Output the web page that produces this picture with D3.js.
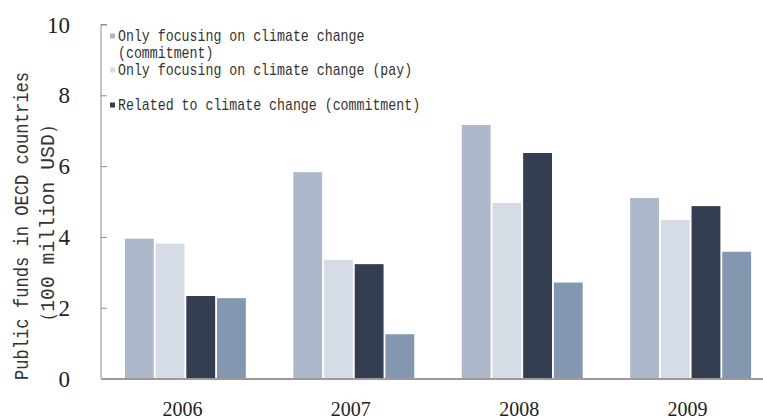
<!DOCTYPE html>
<html>
<head>
<meta charset="utf-8">
<script src="https://cdn.jsdelivr.net/npm/d3@7"></script>
<style>
  html, body { margin: 0; padding: 0; background: #fff; }
  svg { display: block; }
</style>
</head>
<body>
<svg id="chart" width="763" height="419"></svg>
<script>
const years = ["2006", "2007", "2008", "2009"];
const seriesNames = [
  "Only focusing on climate change (commitment)",
  "Only focusing on climate change (pay)",
  "Related to climate change (commitment)",
  "Related to climate change (pay)"
];
const onlyCommit = [3.95, 5.83, 7.16, 5.10];
const onlyPay = [3.81, 3.35, 4.96, 4.48];
const relatedCommit = [2.33, 3.23, 6.37, 4.87];
const relatedPay = [2.27, 1.25, 2.71, 3.58];
const colors = ["#adb9cb", "#d6dce5", "#333f50", "#8497b0"];
const yTicks = [0, 2, 4, 6, 8, 10];
const yTitle1 = "Public funds in OECD countries";
const yTitle2 = "（100 million USD）";

const seriesValues = [onlyCommit, onlyPay, relatedCommit, relatedPay];

const svg = d3.select("#chart");
const monoFont = "'Liberation Mono', 'DejaVu Sans Mono', monospace";
const serifFont = "'Liberation Serif', 'DejaVu Serif', serif";

function simWidth(t, fs) {
  let w = 0;
  for (const ch of t) w += (ch.charCodeAt(0) > 255 ? 1 : 0.5) * fs;
  return w;
}

const y = d3.scaleLinear().domain([0, 10]).range([378.5, 24.5]);
const x0 = d3.scaleBand().domain(years).range([101, 775]).paddingInner(0.282).paddingOuter(0.142);
const x1 = d3.scaleBand().domain(d3.range(4)).range([0, x0.bandwidth()]).paddingInner(0.06);

const groups = svg.append("g").selectAll("g")
  .data(years)
  .join("g")
  .attr("transform", d => `translate(${x0(d)},0)`);

groups.selectAll("rect")
  .data((d, i) => seriesValues.map((s, k) => ({k, v: s[i]})))
  .join("rect")
  .attr("x", d => x1(d.k))
  .attr("width", x1.bandwidth())
  .attr("y", d => y(d.v))
  .attr("height", d => y(0) - y(d.v))
  .attr("fill", d => colors[d.k]);

const yAxis = d3.axisRight(y).tickValues(yTicks).tickSize(6).tickFormat("");
const yg = svg.append("g").attr("transform", "translate(101,0)").call(yAxis);
yg.select(".domain").attr("stroke", "#8c8c8c").attr("d", `M6,${y(10)}H0V${y(0)}H6`);
yg.selectAll(".tick line").attr("stroke", "#8c8c8c");

svg.append("g").selectAll("text")
  .data(yTicks)
  .join("text")
  .attr("x", 70)
  .attr("y", d => y(d))
  .attr("dy", "0.35em")
  .attr("text-anchor", "end")
  .attr("font-family", serifFont)
  .attr("font-size", 23)
  .attr("fill", "#222")
  .text(d => d);

svg.append("line")
  .attr("x1", 101).attr("x2", 763)
  .attr("y1", y(0) + 0.5).attr("y2", y(0) + 0.5)
  .attr("stroke", "#9a9a9a").attr("stroke-width", 2);

svg.append("g").selectAll("text")
  .data(years)
  .join("text")
  .attr("x", d => x0(d) + x0.bandwidth() / 2 - 3)
  .attr("y", 415.5)
  .attr("text-anchor", "middle")
  .attr("font-family", serifFont)
  .attr("font-size", 20)
  .attr("fill", "#222")
  .text(d => d);

// rotated title lines, scaled horizontally to a target length
function titleLine(t, xb, yc, fs, len) {
  const g = svg.append("g").attr("transform", `translate(${xb},${yc}) rotate(-90)`);
  const txt = g.append("text")
    .attr("text-anchor", "middle")
    .attr("font-family", monoFont)
    .attr("font-size", fs)
    .attr("fill", "#333")
    .text(t);
  const nat = txt.node().getComputedTextLength();
  txt.attr("transform", `scale(${len / nat},1)`);
}
titleLine(yTitle1, 28, 226, 20.5, 308);
titleLine(yTitle2, 54, 223, 20.5, 218);

const legendRows = [
  {k: 0, lines: ["Only focusing on climate change", "(commitment)"], y: 41},
  {k: 1, lines: ["Only focusing on climate change (pay)"], y: 75},
  {k: 2, lines: ["Related to climate change (commitment)"], y: 110}
];
const lfs = 15.9;
const lg = svg.append("g");
legendRows.forEach(r => {
  lg.append("rect")
    .attr("x", 110).attr("y", r.y - 7.5)
    .attr("width", 5).attr("height", 5)
    .attr("fill", colors[r.k]);
  r.lines.forEach((ln, j) => {
    lg.append("text")
      .attr("x", 118)
      .attr("y", r.y + j * 17)
      .attr("font-family", monoFont)
      .attr("font-size", lfs)
      .attr("fill", "#333")
      .attr("textLength", simWidth(ln, lfs))
      .attr("lengthAdjust", "spacingAndGlyphs")
      .text(ln);
  });
});
</script>
</body>
</html>
